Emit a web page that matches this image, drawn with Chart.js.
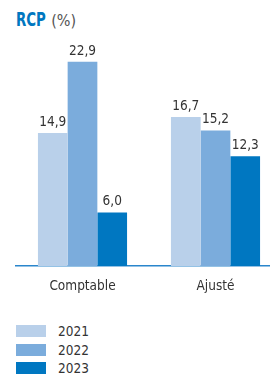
<!DOCTYPE html>
<html><head><meta charset="utf-8">
<script src="https://cdn.jsdelivr.net/npm/chart.js@4/dist/chart.umd.min.js"></script>
<style>
html,body{margin:0;padding:0;width:270px;height:374px;overflow:hidden;background:#fff;font-family:'DejaVu Sans Condensed','DejaVu Sans',sans-serif;}
#title{position:absolute;left:16px;top:10px;white-space:nowrap;line-height:19px;}
#title .a{display:inline-block;font-weight:bold;font-size:19px;color:#0077c0;transform:scaleX(0.78);transform-origin:0 0;}
#title .b{font-size:16px;color:#555;margin-left:-3px;}
#wrap{position:absolute;left:0;top:0;width:290px;height:300px;}
#legend{position:absolute;left:16px;top:325px;}
.item{position:absolute;left:0;height:12px;width:100px;}
.box{position:absolute;left:0;top:0;width:30px;height:12px;}
.lab{position:absolute;left:42px;top:-3px;font-size:13.5px;color:#333;line-height:18px;}
</style></head>
<body>
<div id="title"><span class="a">RCP</span><span class="b">(%)</span></div>
<div id="wrap"><canvas id="c"></canvas></div>
<div id="legend"></div>
<script>
const categories = ['Comptable', 'Ajusté'];
const years = ['2021', '2022', '2023'];
const values2021 = [14.9, 16.7];
const values2022 = [22.9, 15.2];
const values2023 = [6.0, 12.3];
const colors = ['#b9d0ea', '#7bacdc', '#0077c1'];
const series = [values2021, values2022, values2023];
const FONT = "'DejaVu Sans Condensed','DejaVu Sans',sans-serif";

const labelPlugin = {
  id: 'vlabels',
  afterDatasetsDraw(chart) {
    const ctx = chart.ctx;
    ctx.save();
    ctx.font = "13.5px " + FONT;
    ctx.fillStyle = '#333';
    ctx.textAlign = 'center';
    ctx.textBaseline = 'alphabetic';
    chart.data.datasets.forEach((ds, i) => {
      chart.getDatasetMeta(i).data.forEach((bar, j) => {
        ctx.fillText(ds.data[j].toFixed(1).replace('.', ','), bar.x, bar.y - 7);
      });
    });
    ctx.restore();
  }
};

const chart = new Chart(document.getElementById('c'), {
  type: 'bar',
  data: {
    labels: categories,
    datasets: years.map((y, i) => ({
      label: y, data: series[i], backgroundColor: colors[i], borderWidth: 0
    }))
  },
  options: {
    responsive: true, maintainAspectRatio: false, animation: false,
    layout: { padding: { top: 43, left: 16, right: 8, bottom: 0 } },
    plugins: { legend: { display: false }, tooltip: { enabled: false } },
    datasets: { bar: { categoryPercentage: 0.67, barPercentage: 1.0 } },
    scales: {
      x: {
        grid: { display: false, drawTicks: false },
        border: { display: true, color: '#2a86cc', width: 1.5 },
        ticks: { color: '#333', padding: 12, font: { size: 13.5, family: FONT } },
        afterFit(s) { s.height = 34; }
      },
      y: { display: false, min: 0, max: 25 }
    }
  },
  plugins: [labelPlugin]
});

const leg = document.getElementById('legend');
const tops = [0, 19, 37];
years.forEach((y, i) => {
  const d = document.createElement('div');
  d.className = 'item';
  d.style.top = tops[i] + 'px';
  d.innerHTML = '<div class="box" style="background:' + colors[i] + '"></div><div class="lab">' + y + '</div>';
  leg.appendChild(d);
});
</script>
</body></html>
